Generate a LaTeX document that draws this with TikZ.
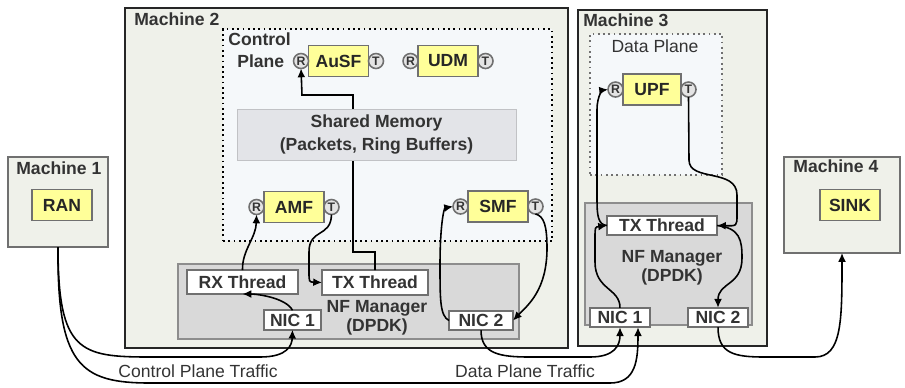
\documentclass[tikz,border=0pt]{standalone}
\usepackage{fontspec}
\setmainfont{Liberation Sans}
\usetikzlibrary{arrows.meta,positioning}
\definecolor{machfill}{HTML}{EFF1EA}
\definecolor{planefill}{HTML}{F5F8FA}
\definecolor{mgrfill}{HTML}{D9D9D9}
\definecolor{memfill}{HTML}{E3E4E8}
\definecolor{nfyellow}{HTML}{FFFF99}
\definecolor{portfill}{HTML}{E4E4E4}
\definecolor{edge}{HTML}{707070}
\definecolor{ink}{HTML}{333333}
\tikzset{
  machine/.style={draw=#1, fill=machfill, line width=1.3pt, inner sep=0pt, outer sep=0pt},
  plane/.style={draw=#1, fill=planefill, dotted, line width=1pt, inner sep=0pt, outer sep=0pt},
  manager/.style={draw=edge!80, fill=mgrfill, line width=1pt, inner sep=0pt, outer sep=0pt},
  memory/.style={draw=memfill!85!black, fill=memfill, align=center, text=ink, inner sep=0pt, outer sep=0pt,
    minimum width=5.58cm, minimum height=1.02cm},
  thread/.style={draw=edge, fill=white, line width=1pt, inner sep=0pt, outer sep=0pt, text=ink},
  nic/.style={thread, minimum width=1.2cm, minimum height=0.39cm},
  nf/.style={draw=edge, fill=nfyellow, line width=1pt, inner sep=0pt, outer sep=0pt, text=black!85,
    minimum width=1.2cm, minimum height=0.62cm},
  port/.style={circle, draw=edge, fill=portfill, line width=0.9pt, inner sep=0pt, outer sep=0pt,
    minimum size=0.3cm, font=\fontsize{7}{7}\selectfont\bfseries, text=ink},
  title/.style={anchor=base west, inner sep=0pt, text=ink},
  flow/.style={-{Latex[length=5pt,width=4.5pt]}, line width=0.9pt, black}
}
\begin{document}
\begin{tikzpicture}[x=0.02cm, y=-0.02cm, font=\fontsize{10}{12}\selectfont\bfseries]
  \useasboundingbox (0,0) rectangle (905,387);
  % las cuatro máquinas
  \node[machine=edge, minimum width=2cm, minimum height=1.8cm] (m1) at (58,202) {};
  \node[machine=black!85, minimum width=8.86cm, minimum height=6.8cm] (m2) at (346.5,178) {};
  \node[machine=black!85, minimum width=3.78cm, minimum height=6.72cm] (m3) at (672.5,178) {};
  \node[machine=edge, minimum width=2.32cm, minimum height=1.92cm] (m4) at (842,205) {};
  \node[title] (m1-title) at (16,174) {Machine 1};
  \node[title] (m2-title) at (134,25) {Machine 2};
  \node[title] (m3-title) at (583,26) {Machine 3};
  \node[title] (m4-title) at (793,172) {Machine 4};
  % los planos de control y de datos
  \node[plane=black, minimum width=6.58cm, minimum height=4.24cm] (cp) at (387.5,135) {};
  \node[plane=edge, minimum width=2.64cm, minimum height=2.82cm] (dp) at (656,104.5) {};
  \node[title] (cp-title1) at (228,45) {Control};
  \node[title] (cp-title2) at (237,67) {Plane};
  \node[title, anchor=center, font=\fontsize{10}{12}\selectfont] (dp-title) at (655,46) {Data Plane};
  % los gestores NF, con sus hilos y tarjetas
  \node[manager, minimum width=6.82cm, minimum height=1.5cm] (mgr2) at (348.5,301.5) {};
  \node[manager, minimum width=3.34cm, minimum height=2.44cm] (mgr3) at (668.5,264) {};
  \node[align=center, text=ink, inner sep=0pt] (mgr2-txt) at (377,318) {NF Manager\\[-1pt](DPDK)};
  \node[align=center, text=ink, inner sep=0pt] (mgr3-txt) at (672,268) {NF Manager\\[-1pt](DPDK)};
  \node[thread, minimum width=2.22cm, minimum height=0.48cm] (rx) at (242.5,282) {RX Thread};
  \node[thread, minimum width=2.12cm, minimum height=0.5cm] (txa) at (375,282.5) {TX Thread};
  \node[thread, minimum width=2.2cm, minimum height=0.38cm] (txb) at (662,225.5) {TX Thread};
  \node[nic, minimum width=1.14cm] (nic1a) at (292.5,320) {NIC 1};
  \node[nic, minimum width=1.28cm] (nic2a) at (481,320.5) {NIC 2};
  \node[nic] (nic1b) at (620,317.5) {NIC 1};
  \node[nic] (nic2b) at (718,317.5) {NIC 2};
  % las funciones de red, con sus puertos R y T
  \node[nf] (ran) at (62,205) {RAN};
  \node[nf] (sink) at (850,205) {SINK};
  \node[nf] (ausf) at (338.5,61) {AuSF};
  \node[nf] (udm) at (448,61) {UDM};
  \node[nf] (amf) at (294,207) {AMF};
  \node[nf] (smf) at (498,206.5) {SMF};
  \node[nf, minimum width=1.16cm] (upf) at (652,89.5) {UPF};
  \foreach \nf in {ausf,udm,amf,smf,upf} {
    \node[port, left=0pt of \nf] (\nf-r) {R};
    \node[port, right=0pt of \nf] (\nf-t) {T};
  }
  % del hilo TX hasta AuSF, por detrás de la memoria
  \draw[flow] (txa.north) |- (353,252) |- (302,95) -- (ausf-r.south);
  \node[memory] (shm) at (376.5,134.5) {Shared Memory\\[1pt](Packets, Ring Buffers)};
  % dentro de la máquina 2
  \draw[flow] (nic1a.north) .. controls (286,298) and (258,294) .. (rx.south);
  \draw[flow] (rx.north) .. controls (242,250) and (256,238) .. (amf-r.south);
  \draw[flow] (amf-t.south) .. controls (331,238) and (309,228) .. (309,252) -- (309,272)
    .. controls (309,282) .. (txa.west);
  \draw[flow] (nic2a.west) .. controls (440,316) and (440,300) .. (440,265)
    .. controls (440,225) and (444,208) .. (smf-r.west);
  \draw[flow] (smf-t.south) .. controls (544,216) and (547,226) .. (547,248)
    .. controls (547,290) and (528,305) .. (nic2a.east);
  % dentro de la máquina 3
  \draw[flow] (nic1b.north) .. controls (620,288) and (595,290) .. (595,262) -- (595,238)
    .. controls (595,227) .. (txb.west);
  \draw[flow] (txb.west) .. controls (598,225) and (597,215) .. (597,200) -- (597,110)
    .. controls (597,94) and (604,90) .. (upf-r.west);
  \draw[flow] (upf-t.south) -- (689,160) .. controls (689,182) and (737,168) .. (737,195)
    -- (737,215) .. controls (737,226) .. (txb.east);
  \draw[flow] (txb.east) .. controls (740,228) and (742,240) .. (742,258)
    .. controls (742,286) and (718,282) .. (nic2b.north);
  % el tráfico entre máquinas
  \draw[flow] (m1.south) .. controls (58,352) and (80,357) .. (150,357) -- (260,357)
    .. controls (288,357) and (292,345) .. (nic1a.south);
  \draw[flow] (m1.south) .. controls (57,365) and (80,383) .. (150,383) -- (610,383)
    .. controls (636,383) and (638,360) .. ([xshift=0.36cm]nic1b.south);
  \draw[flow] (nic2a.south) .. controls (481,354) and (500,357) .. (530,357) -- (590,357)
    .. controls (615,357) and (620,345) .. (nic1b.south);
  \draw[flow] (nic2b.south) .. controls (718,354) and (735,357) .. (765,357) -- (815,357)
    .. controls (842,357) and (842,320) .. (m4.south);
  \node[text=ink, font=\fontsize{10}{12}\selectfont] (cp-traffic) at (198,371) {Control Plane Traffic};
  \node[text=ink, font=\fontsize{10}{12}\selectfont] (dp-traffic) at (525,371) {Data Plane Traffic};
\end{tikzpicture}
\end{document}
